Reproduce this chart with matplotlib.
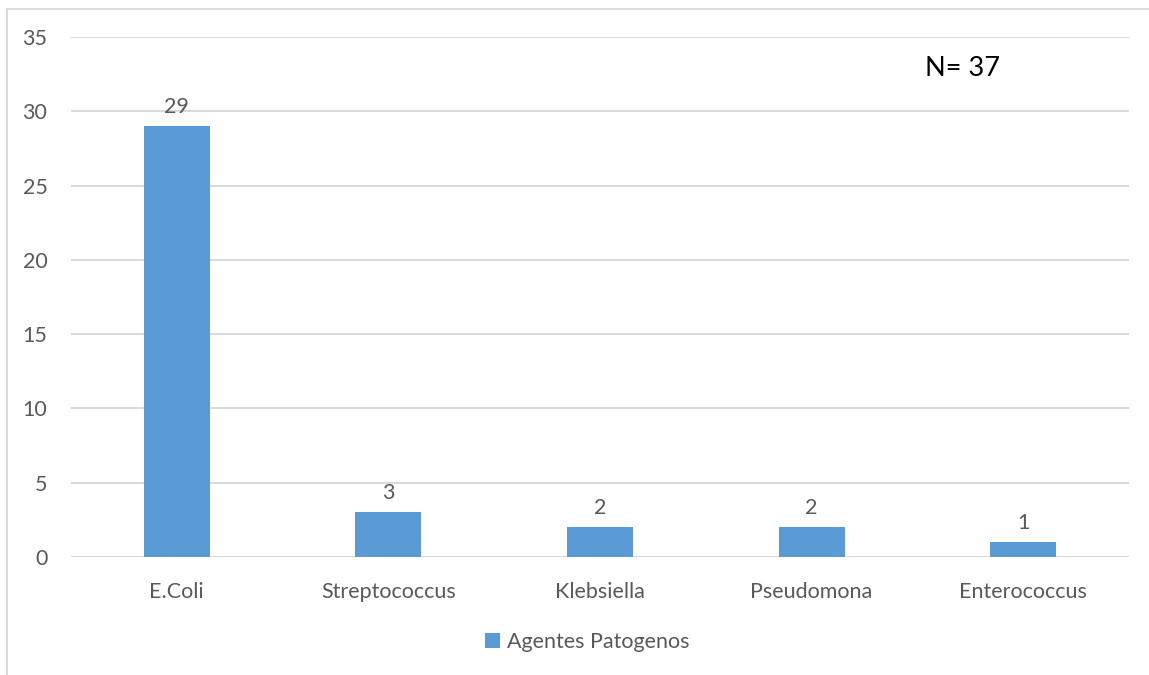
import matplotlib
matplotlib.use("Agg")
import matplotlib.pyplot as plt
from matplotlib.patches import Rectangle

categories = ["E.Coli", "Streptococcus", "Klebsiella", "Pseudomona", "Enterococcus"]
counts = [29, 3, 2, 2, 1]
series_name = "Agentes Patogenos"
total_label = "N= 37"
y_ticks = [0, 5, 10, 15, 20, 25, 30, 35]

BAR = "#5B9BD5"
TEXT = "#595959"
GRID = "#D9D9D9"

plt.rcParams["font.family"] = ["Lato", "DejaVu Sans"]

W, H = 1149, 675
fig = plt.figure(figsize=(W / 100, H / 100), dpi=100)
ax = fig.add_axes([71 / W, 1 - 557 / H, (1129 - 71) / W, (557 - 37) / H])

x = list(range(len(categories)))
bars = ax.bar(x, counts, width=0.312, color=BAR, zorder=3, label=series_name)

ax.set_xlim(-0.5, len(categories) - 0.5)
ax.set_ylim(0, 35)
ax.set_yticks(y_ticks)
ax.set_yticklabels([str(t) for t in y_ticks])
ax.set_xticks(x)
ax.set_xticklabels(categories)
ax.grid(axis="y", color=GRID, linewidth=1.4, zorder=0)
for s in ax.spines.values():
    s.set_visible(False)
ax.tick_params(axis="both", length=0, labelsize=15.5, labelcolor=TEXT)
ax.tick_params(axis="y", pad=17)
ax.tick_params(axis="x", pad=18)

for rect, v in zip(bars, counts):
    ax.annotate(str(v), (rect.get_x() + rect.get_width() / 2, v),
                xytext=(0, 19), textcoords="offset pixels",
                ha="center", va="center", fontsize=15.5, color=TEXT)

fig.text(963 / W, 1 - 68 / H, total_label, ha="center", va="center",
         fontsize=19.5, color="black")

leg = fig.legend(handles=[bars], labels=[series_name], loc="center",
                 bbox_to_anchor=(587 / W, 1 - 642 / H), frameon=False,
                 fontsize=15.5, handlelength=0.7, handleheight=0.7,
                 handletextpad=0.3, borderaxespad=0)
for t in leg.get_texts():
    t.set_color(TEXT)

fig.patches.append(Rectangle((7 / W, -0.1), 1.2, 1 - 8.5 / H + 0.1,
                             transform=fig.transFigure, fill=False,
                             edgecolor=GRID, linewidth=1.3))

fig.savefig("out.png", dpi=100)
